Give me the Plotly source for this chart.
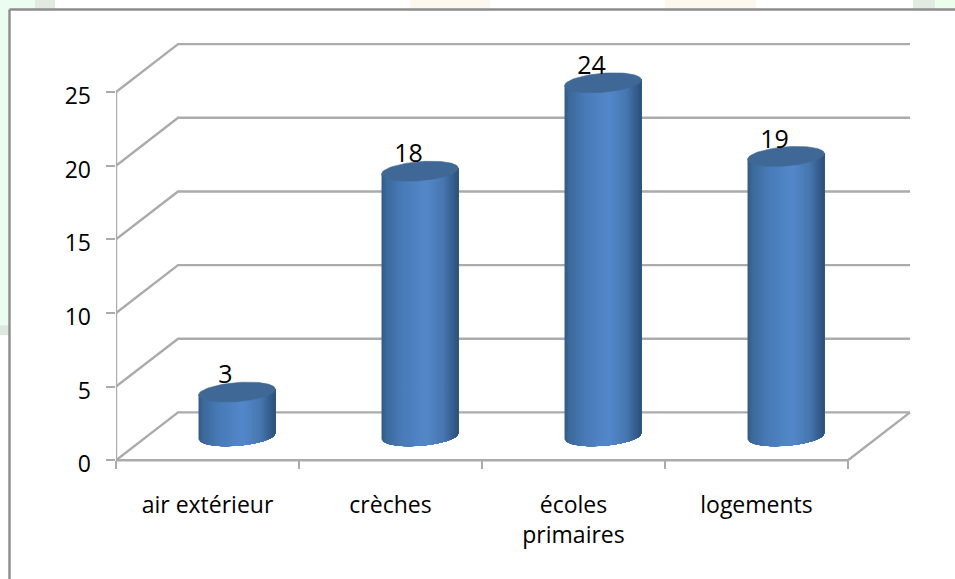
import numpy as np
import plotly.graph_objects as go

categories = ["air extérieur", "crèches", "écoles<br>primaires", "logements"]
values = [3, 18, 24, 19]
y_ticks = [0, 5, 10, 15, 20, 25]

# 3D look, in axis units
DEPTH_X, DEPTH_Y = 0.339, 3.25
OFF_X, OFF_Y = 0.161, 1.63
RX, RY, TILT = 0.21, 0.645, 0.2
X_END = 3.5
GRID = "#ababab"
TOP = "#3f6896"
STOPS = [(0.0, (50, 90, 136)), (0.06, (60, 105, 155)), (0.25, (72, 122, 182)), (0.58, (83, 136, 203)),
         (0.8, (72, 120, 178)), (0.94, (52, 92, 140)), (1.0, (44, 80, 120))]

fig = go.Figure()

def line(xs, ys, color=GRID, width=2.4):
    fig.add_trace(go.Scatter(x=xs, y=ys, mode="lines", line=dict(color=color, width=width),
                             hoverinfo="skip", showlegend=False))

# walls and floor
for v in y_ticks:
    line([-0.5, -0.5 + DEPTH_X, X_END + DEPTH_X], [v, v + DEPTH_Y, v + DEPTH_Y])
line([X_END, X_END + DEPTH_X], [0, DEPTH_Y])

# cylinder bodies: shaded strips painted left to right, each reaching the right edge
N = 48
positions = [s[0] for s in STOPS]
for k in range(N):
    t = (k + 0.5) / N
    col = [np.interp(t, positions, [s[1][c] for s in STOPS]) for c in range(3)]
    color = "rgb(%d,%d,%d)" % tuple(col)
    xs, ys = [], []
    for i, v in enumerate(values):
        u = np.linspace(-1 + 2 * k / N, 1, N - k + 1)
        cx = i + OFF_X
        low = OFF_Y - RY * np.sqrt(np.clip(1 - u ** 2, 0, 1)) + TILT * u
        high = v + OFF_Y + TILT * u
        xs += list(cx + RX * u) + list(cx + RX * u[::-1]) + [None]
        ys += list(low) + list(high[::-1]) + [None]
    fig.add_trace(go.Scatter(x=xs, y=ys, mode="lines", fill="toself", fillcolor=color,
                             line=dict(width=0), hoverinfo="skip", showlegend=False))

# cylinder tops
th = np.linspace(0, 2 * np.pi, 80)
for i, v in enumerate(values):
    c = np.cos(th)
    fig.add_trace(go.Scatter(x=i + OFF_X + RX * c, y=v + OFF_Y + RY * np.sin(th) + TILT * c,
                             mode="lines", fill="toself", fillcolor=TOP,
                             line=dict(color=TOP, width=0.6), hoverinfo="skip", showlegend=False))

# value labels
fig.add_trace(go.Scatter(x=[i + OFF_X - 0.063 for i in range(4)], y=[v + OFF_Y + 1.02 for v in values],
                         mode="text", text=[str(v) for v in values], textposition="middle center",
                         textfont=dict(family="Open Sans", size=25, color="#000000"),
                         hoverinfo="skip", showlegend=False))

W, H = 955, 579
Y_SCALE = 14.72
L, R, T, B = 116, 39, 30, 119 - Y_SCALE  # plot area runs one value unit below zero
PW, PH = W - L - R, H - T - B
LABEL_DROP = 4 / Y_SCALE  # the value-axis labels sit slightly below their ticks

def px(x):
    return (x - L) / PW

def py(y):
    return 1 - (y - T) / PH

def patch(x0, x1, y0, y1, color):
    return dict(type="rect", xref="paper", yref="paper", x0=px(x0), x1=px(x1), y0=py(y0), y1=py(y1),
                fillcolor=color, line_width=0, layer="below")

shapes = [
    patch(0, 9, 0, 325, "#ebfdf0"),
    patch(0, 9, 325, 335, "#dfe8e0"),
    patch(9, 35, 0, 9, "#ebfdf0"),
    patch(35, 55, 0, 9, "#e2e9e1"),
    patch(410, 490, 0, 9, "#fdf8ee"),
    patch(665, 756, 0, 9, "#fdf8ee"),
    patch(913, 935, 0, 9, "#e2ebe2"),
    patch(935, 955, 0, 9, "#ebfdeb"),
    dict(type="line", xref="paper", yref="paper", x0=px(9.5), x1=px(955), y0=py(9.5), y1=py(9.5),
         line=dict(color="#8c8c8c", width=2.4)),
    dict(type="line", xref="paper", yref="paper", x0=px(9.5), x1=px(9.5), y0=py(9.5), y1=py(579),
         line=dict(color="#8c8c8c", width=2.4)),
]

fig.update_layout(
    width=W, height=H, autosize=False, showlegend=False,
    margin=dict(l=L, r=R, t=T, b=B),
    paper_bgcolor="#ffffff", plot_bgcolor="rgba(0,0,0,0)", shapes=shapes,
    xaxis=dict(
        range=[-0.5, -0.5 + PW / 183], tickmode="array", tickvals=list(range(4)), ticktext=categories,
        ticks="", showgrid=False, zeroline=False, showline=False,
        anchor="free", position=Y_SCALE / PH,
        tickfont=dict(family="Open Sans", size=23, color="#000000"), tickangle=0, ticklabelstandoff=29,
        minor=dict(tickmode="array", tickvals=[i - 0.5 for i in range(5)], ticks="outside", ticklen=8,
                   tickwidth=2, tickcolor=GRID, showgrid=False),
    ),
    yaxis=dict(
        range=[-1, -1 + PH / Y_SCALE], tickmode="array", tickvals=y_ticks, ticks="outside", ticklen=9, tickwidth=2,
        tickcolor=GRID, showgrid=False, zeroline=False, showline=False, showticklabels=False,
    ),
    yaxis2=dict(
        overlaying="y", side="left", anchor="x",
        range=[-1 + LABEL_DROP, -1 + LABEL_DROP + PH / Y_SCALE], tickmode="array", tickvals=y_ticks, ticks="",
        showgrid=False, zeroline=False, showline=False,
        tickfont=dict(family="Open Sans", size=23, color="#000000"), ticklabelstandoff=24,
    ),
)

# axis lines
line([-0.5, -0.5], [0, 25])
line([-0.5, X_END], [0, 0])

# keeps the label axis alive; draws nothing visible
fig.add_trace(go.Scatter(x=[0], y=[0], yaxis="y2", mode="markers", marker=dict(opacity=0),
                         hoverinfo="skip", showlegend=False))

fig.write_html("out.html", config={"displayModeBar": False}, post_script="document.body.style.margin='0';")
